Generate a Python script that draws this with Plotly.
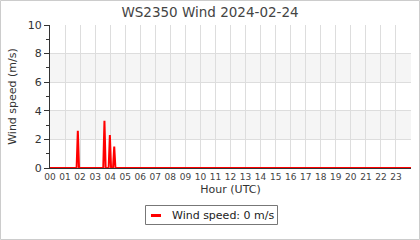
import plotly.graph_objects as go

hours = [0.0, 1.77, 1.85, 1.93, 3.54, 3.62, 3.70, 3.90, 3.98, 4.06, 4.19, 4.27, 4.35, 24.0]
speed = [0.0, 0.0, 2.6, 0.0, 0.0, 3.3, 0.0, 0.0, 2.3, 0.0, 0.0, 1.5, 0.0, 0.0]
tick_vals = list(range(24))
tick_text = [f"{h:02d}" for h in tick_vals]
bands = [(2, 4), (6, 8)]
legend_label = "Wind speed: 0 m/s"

W, H = 420, 240
L, R, T, B = 50, 9, 25, 72
pw, ph = W - L - R, H - T - B


def px(x):
    return (x - L) / pw


def py(y):
    return (T + ph - y) / ph


fig = go.Figure()
fig.add_trace(go.Scatter(
    x=hours, y=speed, mode="lines",
    line=dict(color="#ff0000", width=2),
    name=legend_label, showlegend=False,
))

shapes = []
for y0, y1 in bands:
    shapes.append(dict(type="rect", xref="paper", yref="y", x0=0, x1=1, y0=y0, y1=y1,
                       fillcolor="#f5f5f5", line=dict(width=0), layer="below"))
# outer frame
shapes.append(dict(type="rect", xref="paper", yref="paper",
                   x0=px(0.5), x1=px(W - 0.5), y0=py(H - 0.5), y1=py(0.5),
                   line=dict(color="#cccccc", width=1), fillcolor="rgba(0,0,0,0)"))
# legend box and sample line
shapes.append(dict(type="rect", xref="paper", yref="paper",
                   x0=px(145.5), x1=px(277.5), y0=py(224.5), y1=py(205.5),
                   line=dict(color="#777777", width=1), fillcolor="white"))
shapes.append(dict(type="line", xref="paper", yref="paper",
                   x0=px(151), x1=px(161), y0=py(215.5), y1=py(215.5),
                   line=dict(color="#ff0000", width=3)))

fig.update_layout(
    width=W, height=H,
    margin=dict(l=L, r=R, t=T, b=B, pad=0),
    paper_bgcolor="white", plot_bgcolor="white",
    font=dict(family="DejaVu Sans", color="#333333", size=11),
    title=dict(text="WS2350 Wind 2024-02-24", x=0.5, xref="container", y=1 - 12 / H,
               yanchor="middle", font=dict(size=13.5, color="#444444"),
               xanchor="center"),
    showlegend=False,
    shapes=shapes,
    annotations=[dict(text=legend_label, xref="paper", yref="paper",
                      x=px(170), y=py(215), xanchor="left", yanchor="middle",
                      showarrow=False, font=dict(size=11, color="#222222"))],
)
fig.update_xaxes(
    range=[0, 24], tickvals=tick_vals, ticktext=tick_text,
    tickfont=dict(size=9, color="#444444"),
    showgrid=True, gridcolor="#dddddd", gridwidth=1,
    showline=True, linecolor="#333333", linewidth=1,
    ticks="", zeroline=False, automargin=False,
    title=dict(text="Hour (UTC)", font=dict(size=11, color="#333333"), standoff=4),
)
fig.update_yaxes(
    range=[0, 10], tickvals=[0, 2, 4, 6, 8, 10],
    tickfont=dict(size=11, color="#333333"),
    showgrid=True, gridcolor="#dddddd", gridwidth=1,
    showline=True, linecolor="#333333", linewidth=1,
    ticks="outside", ticklen=5, tickcolor="#333333",
    minor=dict(dtick=1, ticks="outside", ticklen=3, tickcolor="#333333", showgrid=False),
    zeroline=False, automargin=False,
    title=dict(text="Wind speed (m/s)", font=dict(size=11, color="#333333"), standoff=8),
)

fig.write_html("out.html")
